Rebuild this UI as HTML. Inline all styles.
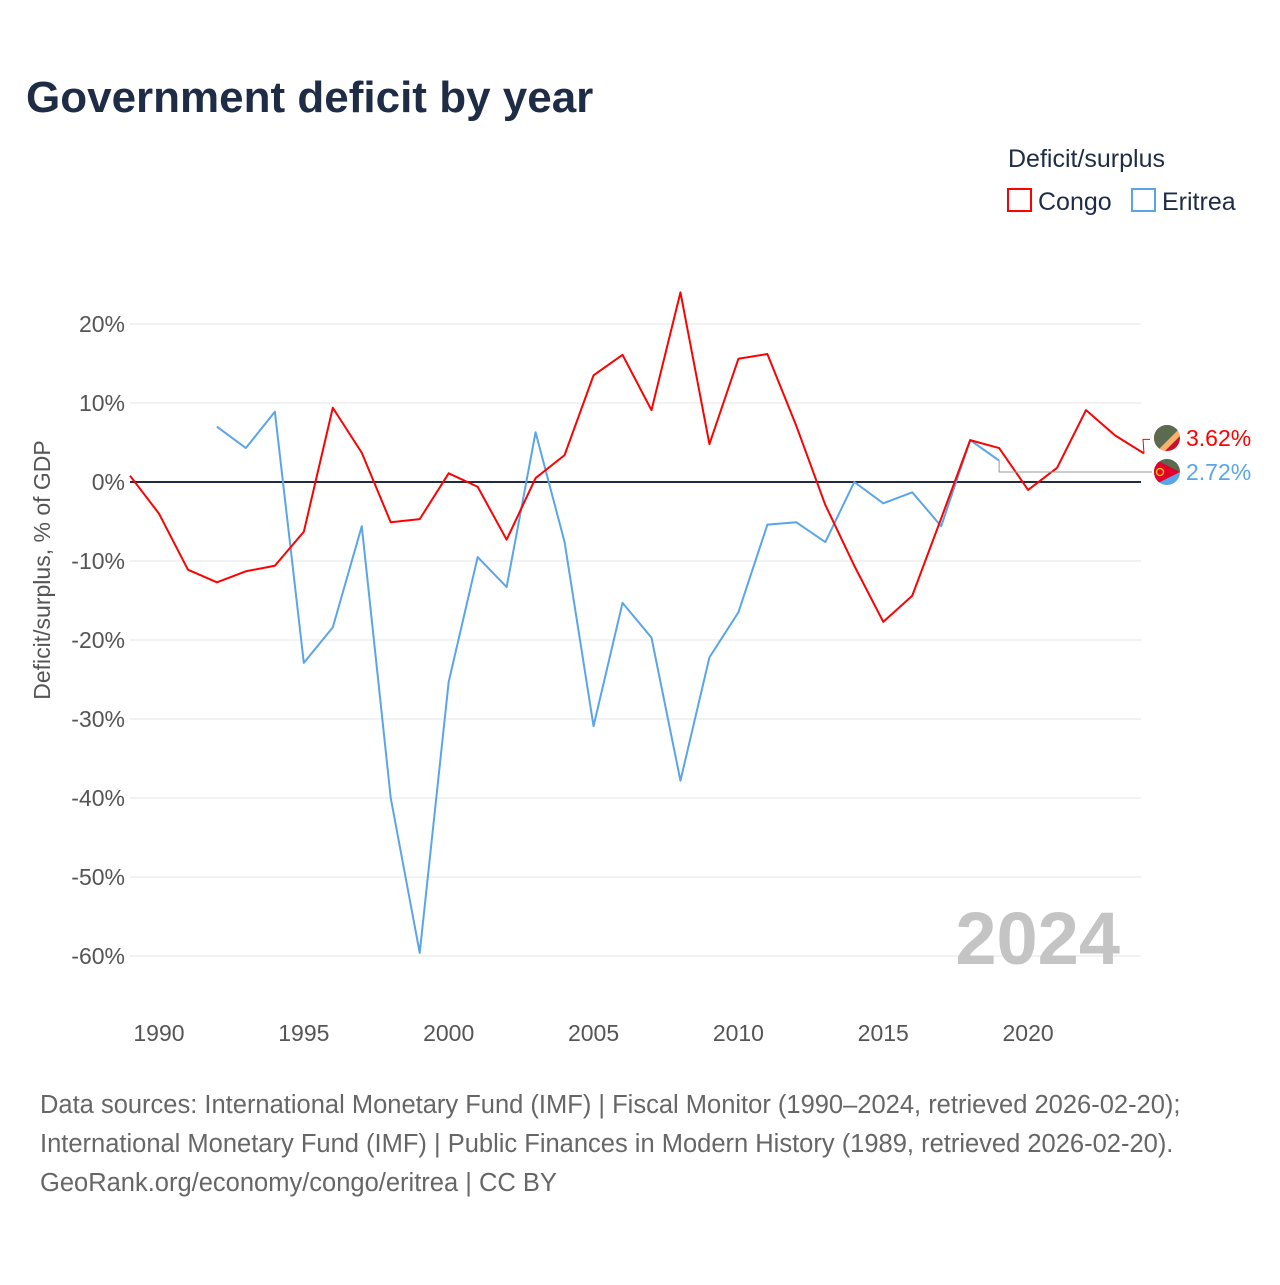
<!DOCTYPE html>
<html><head><meta charset="utf-8">
<style>
body{margin:0;background:#fff;width:1280px;height:1280px;overflow:hidden;font-family:"Liberation Sans",sans-serif}
</style></head>
<body>
<svg width="1280" height="1280" xmlns="http://www.w3.org/2000/svg">
<defs>
<clipPath id="c1"><circle cx="1167" cy="438" r="13"/></clipPath>
<clipPath id="c2"><circle cx="1167" cy="472" r="13"/></clipPath>
</defs>
<text x="26" y="112" font-size="44" font-weight="bold" fill="#1e2d45">Government deficit by year</text>
<text x="1008" y="167" font-size="25" fill="#1e2d45">Deficit/surplus</text>
<g><rect x="1008" y="189" width="23" height="22" fill="none" stroke="#ff0000" stroke-width="2"/><text x="1038" y="210" font-size="25" fill="#1e2d45">Congo</text></g>
<g><rect x="1132" y="189" width="23" height="22" fill="none" stroke="#5aa5ea" stroke-width="2"/><text x="1162" y="210" font-size="25" fill="#1e2d45">Eritrea</text></g>
<g id="grid"></g>
<g id="yticks"></g>
<g id="xticks"></g>
<text transform="translate(50,570) rotate(-90)" text-anchor="middle" font-size="23" fill="#555">Deficit/surplus, % of GDP</text>
<text x="1120" y="964" text-anchor="end" font-size="74" font-weight="bold" fill="#c4c4c4">2024</text>
<g id="series"></g>
<g font-size="25.5" fill="#666">
<text x="40" y="1113">Data sources: International Monetary Fund (IMF) | Fiscal Monitor (1990–2024, retrieved 2026-02-20);</text>
<text x="40" y="1152">International Monetary Fund (IMF) | Public Finances in Modern History (1989, retrieved 2026-02-20).</text>
<text x="40" y="1191">GeoRank.org/economy/congo/eritrea | CC BY</text>
</g>
</svg>
<script>
const yTicks=[20,10,0,-10,-20,-30,-40,-50,-60];
const xTicks=[1990,1995,2000,2005,2010,2015,2020];
const congoYears=[1989,1990,1991,1992,1993,1994,1995,1996,1997,1998,1999,2000,2001,2002,2003,2004,2005,2006,2007,2008,2009,2010,2011,2012,2013,2014,2015,2016,2017,2018,2019,2020,2021,2022,2023,2024];
const congoValues=[0.8,-4.0,-11.1,-12.7,-11.3,-10.6,-6.3,9.4,3.7,-5.1,-4.7,1.1,-0.6,-7.3,0.5,3.4,13.5,16.1,9.1,24.0,4.8,15.6,16.2,7.1,-2.9,-10.6,-17.7,-14.4,-4.6,5.3,4.3,-1.0,1.8,9.1,5.9,3.62];
const eritreaYears=[1992,1993,1994,1995,1996,1997,1998,1999,2000,2001,2002,2003,2004,2005,2006,2007,2008,2009,2010,2011,2012,2013,2014,2015,2016,2017,2018,2019];
const eritreaValues=[7.0,4.3,8.9,-22.9,-18.4,-5.6,-40.0,-59.6,-25.3,-9.5,-13.3,6.3,-7.6,-30.9,-15.3,-19.7,-37.8,-22.2,-16.5,-5.4,-5.1,-7.6,0,-2.7,-1.3,-5.6,5.3,2.72];
const X=y=>130+(y-1989)*(1014/35);
const Y=v=>482-v*7.9;
const NS="http://www.w3.org/2000/svg";
function mk(t,a,p){const e=document.createElementNS(NS,t);for(const k in a)e.setAttribute(k,a[k]);p.appendChild(e);return e;}
const grid=document.getElementById('grid'),yt=document.getElementById('yticks'),xt=document.getElementById('xticks'),ser=document.getElementById('series');
yTicks.forEach(v=>{
 const l=mk('line',{x1:130,x2:1141,y1:Y(v),y2:Y(v),stroke:v===0?'#1e2d45':'#e4e4e4','stroke-width':v===0?2:1},grid);
 
 
 const t=mk('text',{x:125,y:Y(v)+8,'text-anchor':'end','font-size':23,fill:'#555'},yt);
 t.textContent=v+'%';
 
 
});
xTicks.forEach(y=>{
 const t=mk('text',{x:X(y),y:1041,'text-anchor':'middle','font-size':23,fill:'#555'},xt);
 t.textContent=y;
 
 
});
function line(years,vals,color,name){
 const p=mk('polyline',{points:years.map((y,i)=>X(y)+','+Y(vals[i])).join(' '),fill:'none',stroke:color,'stroke-width':2,'stroke-linejoin':'round'},ser);
 
 
}
line(eritreaYears,eritreaValues,'#5aa5ea','eritrea-line');
line(congoYears,congoValues,'#ff0000','congo-line');
const cEnd=Y(congoValues[congoValues.length-1]);
const eLast=eritreaValues[eritreaValues.length-1],eY=Y(eLast),eX=X(eritreaYears[eritreaYears.length-1]);
const lc=mk('polyline',{points:`${X(2024)},${cEnd} 1143,${cEnd-14} 1150,${cEnd-14}`,fill:'none',stroke:'#ff0000','stroke-width':1},ser);


const le=mk('polyline',{points:`${eX},${eY} ${eX},472 1152,472`,fill:'none',stroke:'#999','stroke-width':1},ser);


const g1=mk('g',{'clip-path':'url(#c1)'},ser);


mk('rect',{x:1150,y:421,width:34,height:34,fill:'#c8102e'},g1);
mk('path',{d:'M1150,458 L1187,421 L1150,421 Z',fill:'#5a6b50'},g1);
mk('path',{d:'M1156,452 L1184,424 L1188,428 L1160,456 Z',fill:'#f7b26b'},g1);
const g2=mk('g',{'clip-path':'url(#c2)'},ser);


mk('rect',{x:1150,y:455,width:34,height:34,fill:'#5aa5ea'},g2);
mk('rect',{x:1150,y:455,width:34,height:17,fill:'#5a6b50'},g2);
mk('path',{d:'M1154,459 L1180,472 L1154,485 Z',fill:'#e4002b'},g2);
mk('circle',{cx:1160,cy:472,r:3.5,fill:'none',stroke:'#f7c000','stroke-width':1.5},g2);
const t1=mk('text',{x:1186,y:446,'font-size':23,fill:'#ff0000'},ser);
t1.textContent=congoValues[congoValues.length-1].toFixed(2)+'%';


const t2=mk('text',{x:1186,y:480,'font-size':23,fill:'#5aa5ea'},ser);
t2.textContent=eLast.toFixed(2)+'%';


</script>
</body></html>
